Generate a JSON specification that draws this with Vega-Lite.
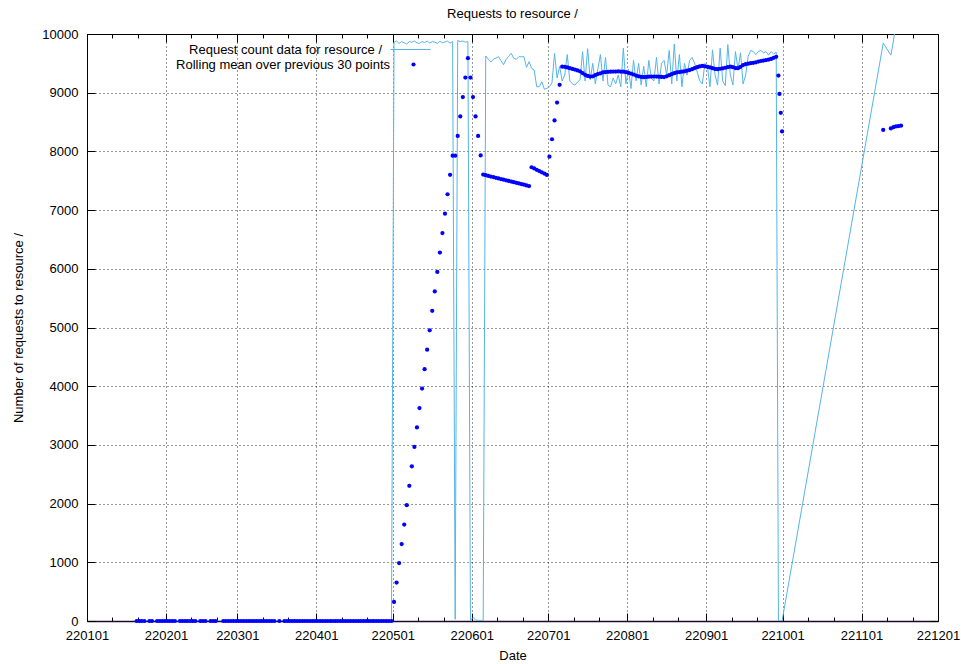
{
"$schema": "https://vega.github.io/schema/vega-lite/v6.json",
"width": 851, "height": 587,
"autosize": {"type": "none"},
"padding": {"left": 87, "top": 34, "right": 23, "bottom": 43},
"background": "white",
"config": {
 "font": "Liberation Sans",
 "view": {"stroke": "#000", "strokeWidth": 1},
 "axis": {"labelFont": "Liberation Sans", "titleFont": "Liberation Sans", "labelFontSize": 13, "titleFontSize": 13, "titleFontWeight": "normal", "labelColor": "#000", "titleColor": "#000", "tickColor": "#000", "tickWidth": 1, "domain": false, "gridColor": "#000", "gridDash": [1, 3], "gridWidth": 1}
},
"title": {"text": "Requests to resource /", "fontSize": 13, "fontWeight": "normal", "font": "Liberation Sans", "color": "#000", "anchor": "middle", "baseline": "alphabetic", "offset": 10, "dy": 13},
"data": {"values": [
{"date":"2022-01-20T12:00","count":0,"mean":0},{"date":"2022-01-21T12:00","count":0,"mean":0},{"date":"2022-01-22T12:00","count":0,"mean":0},{"date":"2022-01-23T12:00","count":0,"mean":0},{"date":"2022-01-25T12:00","count":0,"mean":0},{"date":"2022-01-26T12:00","count":0,"mean":0},{"date":"2022-01-28T12:00","count":0,"mean":0},{"date":"2022-01-29T12:00","count":0,"mean":0},{"date":"2022-01-30T12:00","count":0,"mean":0},{"date":"2022-01-31T12:00","count":0,"mean":0},
{"date":"2022-02-01T12:00","count":0,"mean":0},{"date":"2022-02-02T12:00","count":0,"mean":0},{"date":"2022-02-03T12:00","count":0,"mean":0},{"date":"2022-02-04T12:00","count":0,"mean":0},{"date":"2022-02-06T12:00","count":0,"mean":0},{"date":"2022-02-07T12:00","count":0,"mean":0},{"date":"2022-02-08T12:00","count":0,"mean":0},{"date":"2022-02-09T12:00","count":0,"mean":0},{"date":"2022-02-10T12:00","count":0,"mean":0},{"date":"2022-02-11T12:00","count":0,"mean":0},{"date":"2022-02-12T12:00","count":0,"mean":0},{"date":"2022-02-14T12:00","count":0,"mean":0},{"date":"2022-02-15T12:00","count":0,"mean":0},{"date":"2022-02-16T12:00","count":0,"mean":0},{"date":"2022-02-18T12:00","count":0,"mean":0},{"date":"2022-02-19T12:00","count":0,"mean":0},{"date":"2022-02-20T12:00","count":0,"mean":0},{"date":"2022-02-23T12:00","count":0,"mean":0},{"date":"2022-02-24T12:00","count":0,"mean":0},{"date":"2022-02-25T12:00","count":0,"mean":0},{"date":"2022-02-26T12:00","count":0,"mean":0},{"date":"2022-02-27T12:00","count":0,"mean":0},{"date":"2022-02-28T12:00","count":0,"mean":0},
{"date":"2022-03-01T12:00","count":0,"mean":0},{"date":"2022-03-02T12:00","count":0,"mean":0},{"date":"2022-03-03T12:00","count":0,"mean":0},{"date":"2022-03-04T12:00","count":0,"mean":0},{"date":"2022-03-05T12:00","count":0,"mean":0},{"date":"2022-03-06T12:00","count":0,"mean":0},{"date":"2022-03-07T12:00","count":0,"mean":0},{"date":"2022-03-08T12:00","count":0,"mean":0},{"date":"2022-03-09T12:00","count":0,"mean":0},{"date":"2022-03-10T12:00","count":0,"mean":0},{"date":"2022-03-11T12:00","count":0,"mean":0},{"date":"2022-03-12T12:00","count":0,"mean":0},{"date":"2022-03-13T12:00","count":0,"mean":0},{"date":"2022-03-14T12:00","count":0,"mean":0},{"date":"2022-03-15T12:00","count":0,"mean":0},{"date":"2022-03-17T12:00","count":0,"mean":0},{"date":"2022-03-19T12:00","count":0,"mean":0},{"date":"2022-03-20T12:00","count":0,"mean":0},{"date":"2022-03-21T12:00","count":0,"mean":0},{"date":"2022-03-22T12:00","count":0,"mean":0},{"date":"2022-03-23T12:00","count":0,"mean":0},{"date":"2022-03-24T12:00","count":0,"mean":0},{"date":"2022-03-25T12:00","count":0,"mean":0},{"date":"2022-03-26T12:00","count":0,"mean":0},{"date":"2022-03-27T12:00","count":0,"mean":0},{"date":"2022-03-28T12:00","count":0,"mean":0},{"date":"2022-03-29T12:00","count":0,"mean":0},{"date":"2022-03-30T12:00","count":0,"mean":0},{"date":"2022-03-31T12:00","count":0,"mean":0},
{"date":"2022-04-01T12:00","count":0,"mean":0},{"date":"2022-04-02T12:00","count":0,"mean":0},{"date":"2022-04-03T12:00","count":0,"mean":0},{"date":"2022-04-04T12:00","count":0,"mean":0},{"date":"2022-04-05T12:00","count":0,"mean":0},{"date":"2022-04-06T12:00","count":0,"mean":0},{"date":"2022-04-07T12:00","count":0,"mean":0},{"date":"2022-04-08T12:00","count":0,"mean":0},{"date":"2022-04-09T12:00","count":0,"mean":0},{"date":"2022-04-10T12:00","count":0,"mean":0},{"date":"2022-04-11T12:00","count":0,"mean":0},{"date":"2022-04-12T12:00","count":0,"mean":0},{"date":"2022-04-13T12:00","count":0,"mean":0},{"date":"2022-04-14T12:00","count":0,"mean":0},{"date":"2022-04-15T12:00","count":0,"mean":0},{"date":"2022-04-16T12:00","count":0,"mean":0},{"date":"2022-04-17T12:00","count":0,"mean":0},{"date":"2022-04-18T12:00","count":0,"mean":0},{"date":"2022-04-19T12:00","count":0,"mean":0},{"date":"2022-04-20T12:00","count":0,"mean":0},{"date":"2022-04-21T12:00","count":0,"mean":0},{"date":"2022-04-22T12:00","count":0,"mean":0},{"date":"2022-04-23T12:00","count":0,"mean":0},{"date":"2022-04-24T12:00","count":0,"mean":0},{"date":"2022-04-25T12:00","count":0,"mean":0},{"date":"2022-04-26T12:00","count":0,"mean":0},{"date":"2022-04-27T12:00","count":0,"mean":0},{"date":"2022-04-28T12:00","count":0,"mean":0},{"date":"2022-04-29T12:00","count":0,"mean":0},{"date":"2022-04-30T12:00","count":0,"mean":0},
{"date":"2022-05-01T12:00","count":9860,"mean":324},{"date":"2022-05-02T12:00","count":9880,"mean":655},{"date":"2022-05-03T12:00","count":9840,"mean":986},{"date":"2022-05-04T12:00","count":9870,"mean":1311},{"date":"2022-05-05T12:00","count":9850,"mean":1642},{"date":"2022-05-06T12:00","count":9830,"mean":1973},{"date":"2022-05-07T12:00","count":9870,"mean":2304},{"date":"2022-05-08T12:00","count":9860,"mean":2635},{"date":"2022-05-09T12:00","count":9880,"mean":2966},{"date":"2022-05-10T12:00","count":9850,"mean":3297},{"date":"2022-05-11T12:00","count":9840,"mean":3628},{"date":"2022-05-12T12:00","count":9870,"mean":3959},{"date":"2022-05-13T12:00","count":9855,"mean":4290},{"date":"2022-05-14T12:00","count":9880,"mean":4622},{"date":"2022-05-15T12:00","count":9845,"mean":4953},{"date":"2022-05-16T12:00","count":9870,"mean":5284},{"date":"2022-05-17T12:00","count":9860,"mean":5615},{"date":"2022-05-18T12:00","count":9840,"mean":5946},{"date":"2022-05-19T12:00","count":9875,"mean":6277},{"date":"2022-05-20T12:00","count":9850,"mean":6608},{"date":"2022-05-21T12:00","count":9865,"mean":6939},{"date":"2022-05-22T12:00","count":9880,"mean":7270},{"date":"2022-05-23T12:00","count":9845,"mean":7601},{"date":"2022-05-24T12:00","count":9870,"mean":7926},{"date":"2022-05-25T12:00","count":30,"mean":7926},{"date":"2022-05-26T12:00","count":9890,"mean":8264},{"date":"2022-05-27T12:00","count":9870,"mean":8595},{"date":"2022-05-28T12:00","count":9880,"mean":8926},{"date":"2022-05-29T12:00","count":9860,"mean":9257},{"date":"2022-05-30T12:00","count":9875,"mean":9588},
{"date":"2022-05-31T12:00","count":10,"mean":9257},{"date":"2022-06-01T12:00","count":60,"mean":8926},{"date":"2022-06-02T12:00","count":20,"mean":8595},{"date":"2022-06-03T12:00","count":10,"mean":8264},{"date":"2022-06-04T12:00","count":10,"mean":7932},{"date":"2022-06-05T12:00","count":10,"mean":7605},
{"date":"2022-06-06T12:00","count":9625,"mean":7594},{"date":"2022-06-07T12:00","count":9569,"mean":7583},{"date":"2022-06-08T12:00","count":9523,"mean":7572},{"date":"2022-06-09T12:00","count":9569,"mean":7562},{"date":"2022-06-10T12:00","count":9590,"mean":7551},{"date":"2022-06-11T12:00","count":9613,"mean":7540},{"date":"2022-06-12T12:00","count":9545,"mean":7529},{"date":"2022-06-13T12:00","count":9477,"mean":7518},{"date":"2022-06-14T12:00","count":9569,"mean":7508},{"date":"2022-06-15T12:00","count":9620,"mean":7497},{"date":"2022-06-16T12:00","count":9671,"mean":7486},{"date":"2022-06-17T12:00","count":9586,"mean":7475},{"date":"2022-06-18T12:00","count":9569,"mean":7464},{"date":"2022-06-19T12:00","count":9613,"mean":7454},{"date":"2022-06-20T12:00","count":9613,"mean":7443},{"date":"2022-06-21T12:00","count":9613,"mean":7432},{"date":"2022-06-22T12:00","count":9432,"mean":7421},{"date":"2022-06-23T12:00","count":9528,"mean":7410},
{"date":"2022-06-24T12:00","count":9415,"mean":7730},{"date":"2022-06-25T12:00","count":9387,"mean":7709},{"date":"2022-06-26T12:00","count":9102,"mean":7687},{"date":"2022-06-27T12:00","count":9102,"mean":7666},{"date":"2022-06-28T12:00","count":9187,"mean":7644},{"date":"2022-06-29T12:00","count":9058,"mean":7622},{"date":"2022-06-30T12:00","count":9075,"mean":7600},
{"date":"2022-07-01T12:00","count":9102,"mean":7909},{"date":"2022-07-02T12:00","count":9170,"mean":8207},{"date":"2022-07-03T12:00","count":9670,"mean":8528},{"date":"2022-07-04T12:00","count":9250,"mean":8831},{"date":"2022-07-05T12:00","count":9450,"mean":9135},
{"date":"2022-07-06T12:00","count":9200,"mean":9444},{"date":"2022-07-07T12:00","count":9300,"mean":9440},{"date":"2022-07-08T12:00","count":9650,"mean":9430},{"date":"2022-07-09T12:00","count":9200,"mean":9418},{"date":"2022-07-10T12:00","count":9150,"mean":9405},{"date":"2022-07-11T12:00","count":9130,"mean":9395},{"date":"2022-07-12T12:00","count":9180,"mean":9380},{"date":"2022-07-13T12:00","count":9220,"mean":9365},{"date":"2022-07-14T12:00","count":9700,"mean":9335},{"date":"2022-07-15T12:00","count":9200,"mean":9305},{"date":"2022-07-16T12:00","count":9750,"mean":9285},{"date":"2022-07-17T12:00","count":9220,"mean":9275},{"date":"2022-07-18T12:00","count":9500,"mean":9280},{"date":"2022-07-19T12:00","count":9150,"mean":9300},{"date":"2022-07-20T12:00","count":9400,"mean":9318},{"date":"2022-07-21T12:00","count":9650,"mean":9330},{"date":"2022-07-22T12:00","count":9200,"mean":9345},{"date":"2022-07-23T12:00","count":9600,"mean":9352},{"date":"2022-07-24T12:00","count":9130,"mean":9356},{"date":"2022-07-25T12:00","count":9100,"mean":9358},{"date":"2022-07-26T12:00","count":9250,"mean":9360},{"date":"2022-07-27T12:00","count":9150,"mean":9360},{"date":"2022-07-28T12:00","count":9300,"mean":9362},{"date":"2022-07-29T12:00","count":9100,"mean":9360},{"date":"2022-07-30T12:00","count":9760,"mean":9358},{"date":"2022-07-31T12:00","count":9150,"mean":9350},
{"date":"2022-08-01T12:00","count":9400,"mean":9338},{"date":"2022-08-02T12:00","count":9070,"mean":9325},{"date":"2022-08-03T12:00","count":9550,"mean":9310},{"date":"2022-08-04T12:00","count":9200,"mean":9292},{"date":"2022-08-05T12:00","count":9500,"mean":9280},{"date":"2022-08-06T12:00","count":9130,"mean":9270},{"date":"2022-08-07T12:00","count":9450,"mean":9265},{"date":"2022-08-08T12:00","count":9100,"mean":9268},{"date":"2022-08-09T12:00","count":9550,"mean":9272},{"date":"2022-08-10T12:00","count":9250,"mean":9275},{"date":"2022-08-11T12:00","count":9200,"mean":9276},{"date":"2022-08-12T12:00","count":9600,"mean":9275},{"date":"2022-08-13T12:00","count":9150,"mean":9272},{"date":"2022-08-14T12:00","count":9500,"mean":9268},{"date":"2022-08-15T12:00","count":9550,"mean":9266},{"date":"2022-08-16T12:00","count":9300,"mean":9280},{"date":"2022-08-17T12:00","count":9720,"mean":9298},{"date":"2022-08-18T12:00","count":9150,"mean":9315},{"date":"2022-08-19T12:00","count":9830,"mean":9332},{"date":"2022-08-20T12:00","count":9200,"mean":9345},{"date":"2022-08-21T12:00","count":9650,"mean":9352},{"date":"2022-08-22T12:00","count":9100,"mean":9358},{"date":"2022-08-23T12:00","count":9500,"mean":9365},{"date":"2022-08-24T12:00","count":9300,"mean":9375},{"date":"2022-08-25T12:00","count":9550,"mean":9385},{"date":"2022-08-26T12:00","count":9600,"mean":9400},{"date":"2022-08-27T12:00","count":9500,"mean":9420},{"date":"2022-08-28T12:00","count":9350,"mean":9435},{"date":"2022-08-29T12:00","count":9200,"mean":9448},{"date":"2022-08-30T12:00","count":9150,"mean":9455},{"date":"2022-08-31T12:00","count":9500,"mean":9450},
{"date":"2022-09-01T12:00","count":9450,"mean":9440},{"date":"2022-09-02T12:00","count":9100,"mean":9430},{"date":"2022-09-03T12:00","count":9730,"mean":9418},{"date":"2022-09-04T12:00","count":9300,"mean":9405},{"date":"2022-09-05T12:00","count":9130,"mean":9400},{"date":"2022-09-06T12:00","count":9760,"mean":9408},{"date":"2022-09-07T12:00","count":9200,"mean":9415},{"date":"2022-09-08T12:00","count":9120,"mean":9425},{"date":"2022-09-09T12:00","count":9820,"mean":9435},{"date":"2022-09-10T12:00","count":9300,"mean":9444},{"date":"2022-09-11T12:00","count":9130,"mean":9435},{"date":"2022-09-12T12:00","count":9700,"mean":9420},{"date":"2022-09-13T12:00","count":9400,"mean":9418},{"date":"2022-09-14T12:00","count":9680,"mean":9440},{"date":"2022-09-15T12:00","count":9150,"mean":9470},{"date":"2022-09-16T12:00","count":9300,"mean":9485},{"date":"2022-09-17T12:00","count":9620,"mean":9495},{"date":"2022-09-18T12:00","count":9720,"mean":9502},{"date":"2022-09-19T12:00","count":9700,"mean":9510},{"date":"2022-09-20T12:00","count":9650,"mean":9518},{"date":"2022-09-21T12:00","count":9700,"mean":9530},{"date":"2022-09-22T12:00","count":9720,"mean":9540},{"date":"2022-09-23T12:00","count":9680,"mean":9548},{"date":"2022-09-24T12:00","count":9700,"mean":9555},{"date":"2022-09-25T12:00","count":9640,"mean":9565},{"date":"2022-09-26T12:00","count":9700,"mean":9575},{"date":"2022-09-27T12:00","count":9660,"mean":9595},{"date":"2022-09-28T12:00","count":9690,"mean":9612},
{"date":"2022-09-29T09:00","count":0,"mean":9292},{"date":"2022-09-29T19:00","count":0,"mean":8978},{"date":"2022-09-30T07:00","count":0,"mean":8657},{"date":"2022-09-30T19:00","count":0,"mean":8341},
{"date":"2022-11-09T12:00","count":9845,"mean":8365},{"date":"2022-11-12T12:00","count":9640,"mean":8392},{"date":"2022-11-13T12:00","count":9880,"mean":8412},{"date":"2022-11-14T12:00","count":10200,"mean":8426},{"date":"2022-11-15T12:00","count":10300,"mean":8432},{"date":"2022-11-16T12:00","count":10250,"mean":8439}
]},
"layer": [
 {"mark": {"type": "line", "strokeWidth": 1, "clip": true},
  "encoding": {
   "x": {"field": "date", "type": "temporal",
    "scale": {"domain": [{"year": 2022, "month": 1, "date": 1}, {"year": 2022, "month": 12, "date": 1}], "nice": false},
    "axis": {"orient": "bottom", "title": "Date", "titlePadding": 3,
     "values": [{"year":2022,"month":1,"date":1},{"year":2022,"month":1,"date":11},{"year":2022,"month":1,"date":21},{"year":2022,"month":2,"date":1},{"year":2022,"month":2,"date":11},{"year":2022,"month":2,"date":21},{"year":2022,"month":3,"date":1},{"year":2022,"month":3,"date":11},{"year":2022,"month":3,"date":21},{"year":2022,"month":4,"date":1},{"year":2022,"month":4,"date":11},{"year":2022,"month":4,"date":21},{"year":2022,"month":5,"date":1},{"year":2022,"month":5,"date":11},{"year":2022,"month":5,"date":21},{"year":2022,"month":6,"date":1},{"year":2022,"month":6,"date":11},{"year":2022,"month":6,"date":21},{"year":2022,"month":7,"date":1},{"year":2022,"month":7,"date":11},{"year":2022,"month":7,"date":21},{"year":2022,"month":8,"date":1},{"year":2022,"month":8,"date":11},{"year":2022,"month":8,"date":21},{"year":2022,"month":9,"date":1},{"year":2022,"month":9,"date":11},{"year":2022,"month":9,"date":21},{"year":2022,"month":10,"date":1},{"year":2022,"month":10,"date":11},{"year":2022,"month":10,"date":21},{"year":2022,"month":11,"date":1},{"year":2022,"month":11,"date":11},{"year":2022,"month":11,"date":21},{"year":2022,"month":12,"date":1}],
     "labelExpr": "date(datum.value) == 1 ? timeFormat(datum.value, '%y%m%d') : ''",
     "labelFlush": false, "labelOverlap": false, "labelBound": false, "labelPadding": 16,
     "tickSize": {"condition": {"test": "date(datum.value) == 1", "value": -8}, "value": -4},
     "grid": true,
     "gridOpacity": {"condition": {"test": "date(datum.value) == 1", "value": 0.8}, "value": 0},
     "domain": true, "domainColor": "#1e0a2e", "domainWidth": 1.5}
   },
   "y": {"field": "count", "type": "quantitative",
    "scale": {"domain": [0, 10000], "nice": false},
    "axis": {"orient": "left", "title": "Number of requests to resource /", "titlePadding": 16,
     "values": [0,1000,2000,3000,4000,5000,6000,7000,8000,9000,10000], "format": "d",
     "tickSize": -8, "labelPadding": 17, "labelFlush": false, "grid": true, "gridOpacity": 0.8}},
   "color": {"datum": "Request count data for resource /", "type": "nominal", "scale": {"range": ["#56b4e9"]},
    "legend": {"title": null, "orient": "none", "legendX": 303, "legendY": -5, "padding": 0, "symbolType": "stroke", "symbolSize": 1600, "symbolStrokeWidth": 1, "labelAlign": "right", "labelOffset": -49, "labelFontSize": 13, "labelFont": "Liberation Sans", "labelColor": "#000", "labelLimit": 500}}
  }},
 {"mark": {"type": "point", "filled": true, "size": 18, "opacity": 1, "strokeWidth": 0},
  "encoding": {
   "x": {"field": "date", "type": "temporal",
    "scale": {"domain": [{"year": 2022, "month": 1, "date": 1}, {"year": 2022, "month": 12, "date": 1}], "nice": false},
    "axis": {"orient": "top", "title": null, "labels": false, "grid": false, "domain": false,
     "values": [{"year":2022,"month":1,"date":1},{"year":2022,"month":1,"date":11},{"year":2022,"month":1,"date":21},{"year":2022,"month":2,"date":1},{"year":2022,"month":2,"date":11},{"year":2022,"month":2,"date":21},{"year":2022,"month":3,"date":1},{"year":2022,"month":3,"date":11},{"year":2022,"month":3,"date":21},{"year":2022,"month":4,"date":1},{"year":2022,"month":4,"date":11},{"year":2022,"month":4,"date":21},{"year":2022,"month":5,"date":1},{"year":2022,"month":5,"date":11},{"year":2022,"month":5,"date":21},{"year":2022,"month":6,"date":1},{"year":2022,"month":6,"date":11},{"year":2022,"month":6,"date":21},{"year":2022,"month":7,"date":1},{"year":2022,"month":7,"date":11},{"year":2022,"month":7,"date":21},{"year":2022,"month":8,"date":1},{"year":2022,"month":8,"date":11},{"year":2022,"month":8,"date":21},{"year":2022,"month":9,"date":1},{"year":2022,"month":9,"date":11},{"year":2022,"month":9,"date":21},{"year":2022,"month":10,"date":1},{"year":2022,"month":10,"date":11},{"year":2022,"month":10,"date":21},{"year":2022,"month":11,"date":1},{"year":2022,"month":11,"date":11},{"year":2022,"month":11,"date":21},{"year":2022,"month":12,"date":1}],
     "tickSize": {"condition": {"test": "date(datum.value) == 1", "value": -8}, "value": -4}}},
   "y": {"field": "mean", "type": "quantitative",
    "scale": {"domain": [0, 10000], "nice": false},
    "axis": {"orient": "right", "title": null, "labels": false, "grid": false, "domain": false,
     "values": [0,1000,2000,3000,4000,5000,6000,7000,8000,9000,10000], "tickSize": -8}},
   "color": {"datum": "Rolling mean over previous 30 points", "type": "nominal", "scale": {"range": ["#0000ff"]},
    "legend": {"title": null, "orient": "none", "legendX": 320, "legendY": 24, "padding": 0, "symbolType": "circle", "symbolSize": 18, "symbolStrokeWidth": 0, "labelAlign": "right", "labelOffset": -30, "labelFontSize": 13, "labelFont": "Liberation Sans", "labelColor": "#000", "labelLimit": 500}}
  }}
],
"resolve": {"scale": {"color": "independent"}, "axis": {"x": "independent", "y": "independent"}, "legend": {"color": "independent"}}
}
